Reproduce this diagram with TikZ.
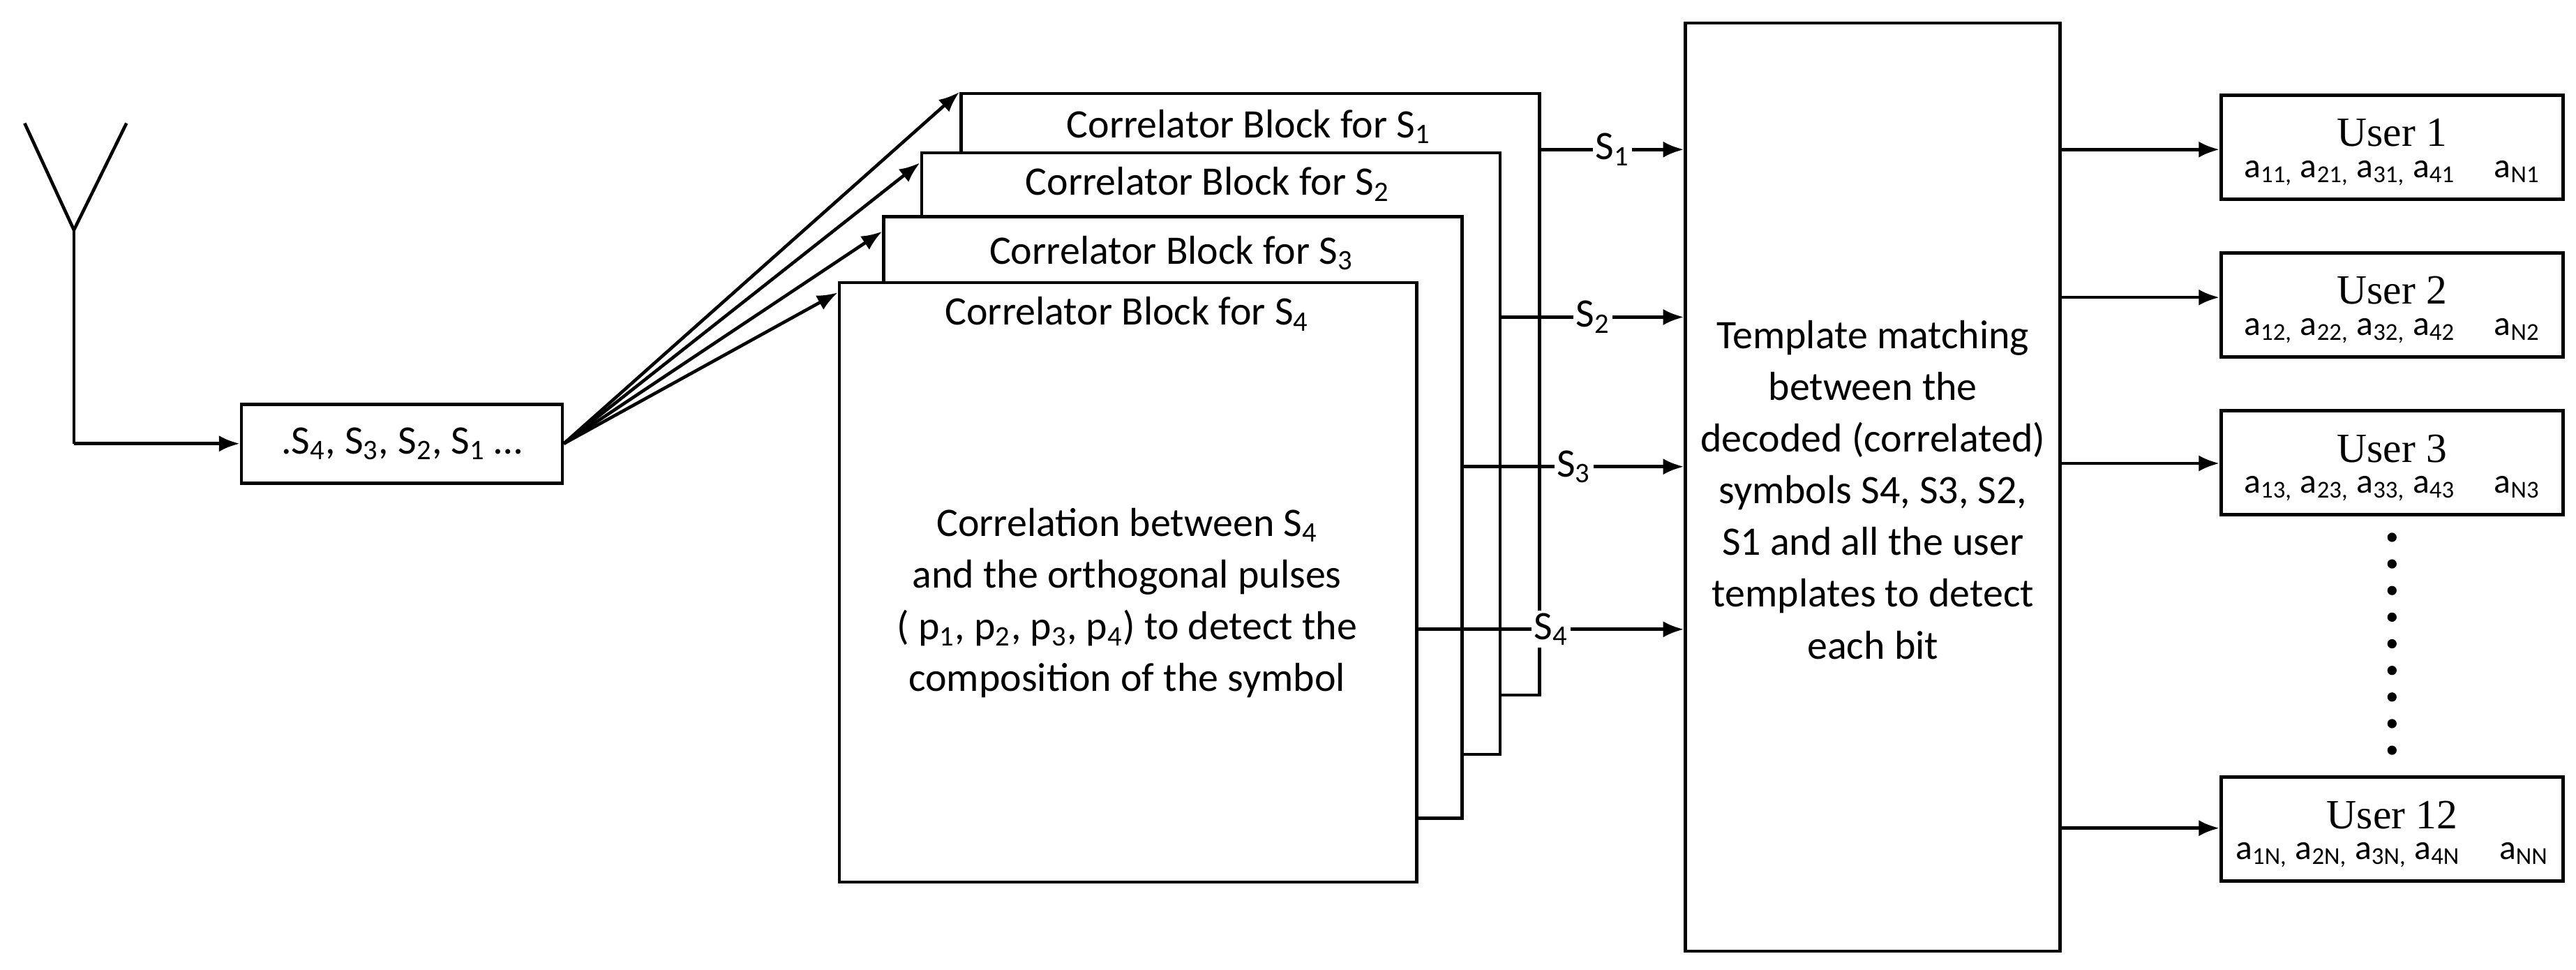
\documentclass[tikz,border=0pt]{standalone}
\usepackage{fontspec}
\setmainfont{Carlito}
\newfontfamily\userfont{Liberation Serif}
\usetikzlibrary{positioning,arrows.meta}

\tikzset{
  box/.style={draw, line width=1.4pt, fill=white, inner sep=0pt},
  arr/.style={-{Latex[length=9pt,width=7pt]}, line width=1.4pt},
  wire/.style={line width=1.4pt},
  lbl/.style={fill=white, inner sep=1pt},
  usr/.style={box, minimum width=5.2cm, minimum height=1.58cm, anchor=north west}
}
\newcommand{\sub}[1]{\textsubscript{#1}}

\begin{document}
\begin{tikzpicture}[x=0.025cm, y=-0.025cm, font=\fontsize{17.5}{22.4}\selectfont]
  \useasboundingbox (0,0) rectangle (1568,590);

  % antenna
  \coordinate (tip) at (45,140);
  \coordinate (foot) at (45,270);
  \draw[wire] (15,75) -- (tip) -- (77,75);
  \draw[wire] (tip) -- (foot);

  % received sequence
  \node[box, minimum width=4.88cm, minimum height=1.2cm, anchor=north west] (seq) at (146,245) {};
  \node at (seq.center) {.S\sub{4}, S\sub{3}, S\sub{2}, S\sub{1} \dots};
  \draw[arr] (foot) -- (seq.west |- foot);

  % stacked correlator blocks
  \node[box, minimum width=8.8cm, minimum height=9.15cm, anchor=north west] (cb1) at (584,56) {};
  \node[box, minimum width=8.8cm, minimum height=9.15cm, anchor=north west] (cb2) at (560,92) {};
  \node[box, minimum width=8.8cm, minimum height=9.15cm, anchor=north west] (cb3) at (537,131) {};
  \node[box, minimum width=8.78cm, minimum height=9.12cm, anchor=north west] (cb4) at (510,171) {};
  \node at (760,77) {Correlator Block for S\sub{1}};
  \node at (735,112) {Correlator Block for S\sub{2}};
  \node at (713,154) {Correlator Block for S\sub{3}};
  \node at (686,191) {Correlator Block for S\sub{4}};
  \node[align=center] (corr) at (686,367) {Correlation between S\sub{4}\\and the orthogonal pulses\\( p\sub{1}, p\sub{2}, p\sub{3}, p\sub{4}) to detect the\\composition of the symbol};

  \draw[arr] (seq.east) -- (cb1.north west);
  \draw[arr] (seq.east) -- ([yshift=-5]cb2.north west);
  \draw[arr] (seq.east) -- ([yshift=-7]cb3.north west);
  \draw[arr] (seq.east) -- ([yshift=-5]cb4.north west);

  % template matching
  \node[box, minimum width=5.7cm, minimum height=14.12cm, anchor=north west] (tm) at (1025,13) {};
  \node[align=center] at (1140,298) {Template matching\\between the\\decoded (correlated)\\symbols S4, S3, S2,\\S1 and all the user\\templates to detect\\each bit};

  \draw[arr] (cb1.east |- 0,91) -- node[lbl] {S\sub{1}} (tm.west |- 0,91);
  \draw[arr] (cb2.east |- 0,193) -- node[lbl] {S\sub{2}} (tm.west |- 0,193);
  \draw[arr] (cb3.east |- 0,284) -- node[lbl] {S\sub{3}} (tm.west |- 0,284);
  \draw[arr] (cb4.east |- 0,383) -- node[lbl] {S\sub{4}} (tm.west |- 0,383);

  % users
  \node[usr] (u1) at (1351,57) {};
  \node[usr] (u2) at (1351,153) {};
  \node[usr] (u3) at (1351,249) {};
  \node[usr] (u12) at (1351,472) {};
  \foreach \u/\k/\t in {u1/1/1, u2/2/2, u3/3/3, u12/N/12}{
    \node[font=\userfont\fontsize{18}{20}\selectfont, inner sep=0pt] at ([yshift=-17]\u.north) {User \t};
    \node[font=\fontsize{15}{18}\selectfont, inner sep=0pt] at ([yshift=12]\u.south) {a\sub{1\k,} a\sub{2\k,} a\sub{3\k,} a\sub{4\k}\hspace{0.9em} a\sub{N\k}};
  }
  \draw[arr] (tm.east |- 0,91) -- (u1.west |- 0,91);
  \draw[arr] (tm.east |- 0,181) -- (u2.west |- 0,181);
  \draw[arr] (tm.east |- 0,282) -- (u3.west |- 0,282);
  \draw[arr] (tm.east |- 0,504) -- (u12.west |- 0,504);

  % dots
  \foreach \i in {0,...,8}
    \fill (1456,327+16.2*\i) circle (2pt);
\end{tikzpicture}
\end{document}
